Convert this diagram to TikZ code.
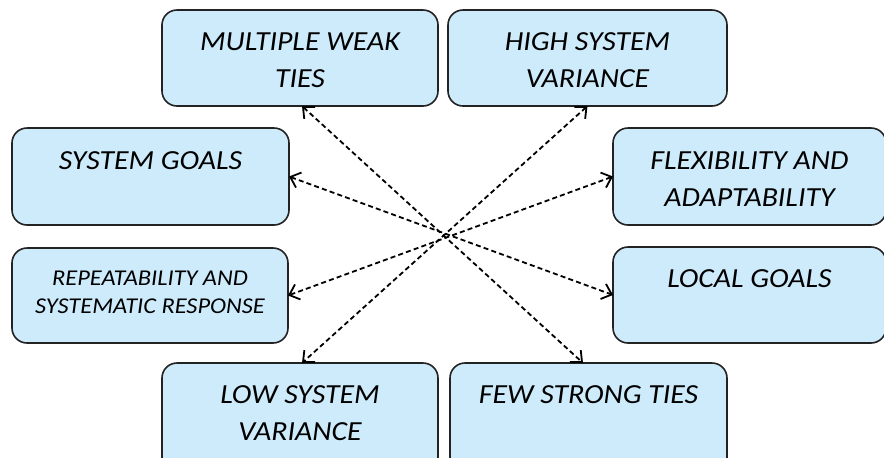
\documentclass[tikz,border=0pt]{standalone}
\usepackage{fontspec}
\setmainfont{Carlito}[FakeStretch=1.08]
\usetikzlibrary{arrows.meta}
\definecolor{boxfill}{RGB}{205,235,251}
\definecolor{boxline}{RGB}{35,35,35}
\begin{document}
\begin{tikzpicture}[x=0.5pt,y=-0.5pt,
  box/.style={draw=boxline, fill=boxfill, line width=0.8pt, rounded corners=7.5pt,
    inner sep=0pt, outer sep=0pt, anchor=north west},
  lbl/.style={anchor=north, inner sep=0pt, align=center,
    font=\fontsize{13.8pt}{18.5pt}\selectfont\itshape},
  lblsmall/.style={lbl, font=\fontsize{11.3pt}{13.9pt}\selectfont\itshape},
  link/.style={dash pattern=on 2.5pt off 1.6pt, line width=0.9pt, black,
    {Straight Barb[length=4.5pt,width=8pt]}-{Straight Barb[length=4.5pt,width=8pt]}}]
\useasboundingbox (0,0) rectangle (884,457);

% boxes
\node[box, minimum width=138pt,   minimum height=48pt]   (mwt) at (162,10)  {};
\node[box, minimum width=139.5pt, minimum height=48pt]   (hsv) at (448,10)  {};
\node[box, minimum width=138.5pt, minimum height=48.5pt] (sg)  at (12,128)  {};
\node[box, minimum width=136.5pt, minimum height=48.5pt] (fa)  at (613,128) {};
\node[box, minimum width=138pt,   minimum height=47.5pt] (rep) at (12,248)  {};
\node[box, minimum width=136.5pt, minimum height=48pt]   (lg)  at (613,247) {};
\node[box, minimum width=138pt,   minimum height=55pt]   (lsv) at (162,363) {};
\node[box, minimum width=138.5pt, minimum height=55pt]   (fst) at (450,363) {};

% labels
\node[lbl] (mwtt) at ([yshift=-11pt]mwt.north) {MULTIPLE WEAK\\TIES};
\node[lbl] (hsvt) at ([yshift=-11pt]hsv.north) {HIGH SYSTEM\\VARIANCE};
\node[lbl] (sgt)  at ([yshift=-11.5pt]sg.north) {SYSTEM GOALS};
\node[lbl] (fat)  at ([yshift=-11.5pt]fa.north) {FLEXIBILITY AND\\ADAPTABILITY};
\node[lblsmall] (rept) at ([yshift=-11.5pt]rep.north) {REPEATABILITY AND\\SYSTEMATIC RESPONSE};
\node[lbl] (lgt)  at ([yshift=-11pt]lg.north) {LOCAL GOALS};
\node[lbl] (lsvt) at ([yshift=-11pt]lsv.north) {LOW SYSTEM\\VARIANCE};
\node[lbl] (fstt) at ([yshift=-11pt]fst.north) {FEW STRONG TIES};

% crossing links
\draw[link] ([xshift=1pt]mwt.south) -- ([xshift=-2.75pt]fst.north);
\draw[link] (hsv.south) -- ([xshift=1pt]lsv.north);
\draw[link] (sg.east) -- (lg.west);
\draw[link] (fa.west) -- (rep.east);
\end{tikzpicture}
\end{document}
